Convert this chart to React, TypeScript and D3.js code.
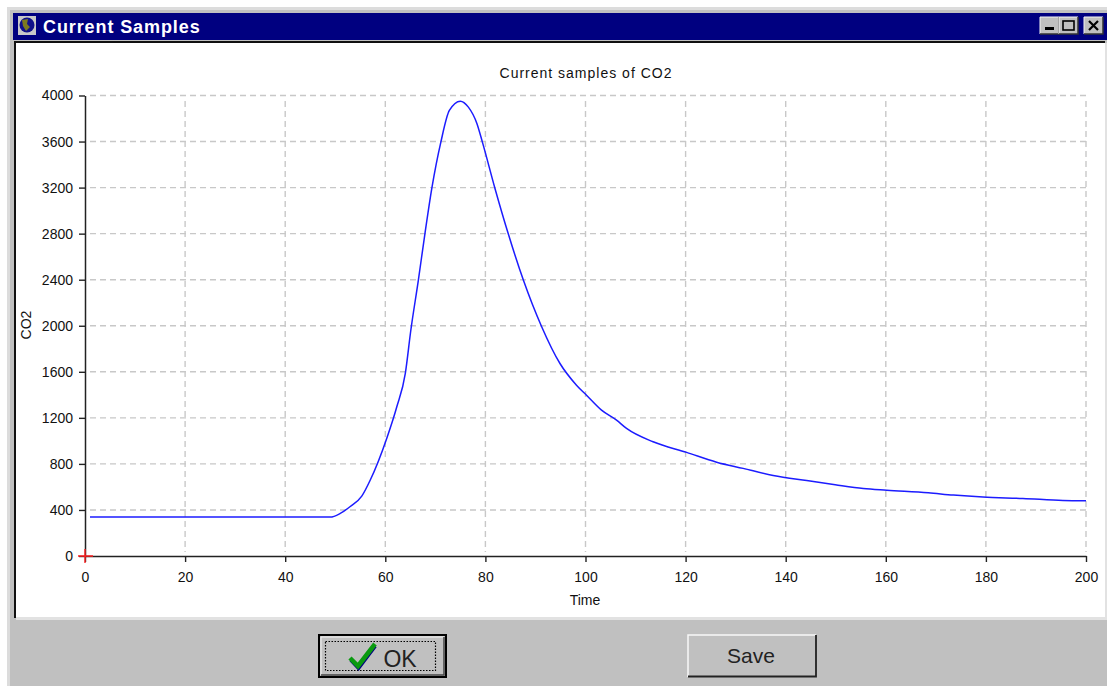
import { useEffect, useRef } from "react";
import * as d3 from "d3";

const timeTicks = [0, 20, 40, 60, 80, 100, 120, 140, 160, 180, 200];
const co2Ticks = [0, 400, 800, 1200, 1600, 2000, 2400, 2800, 3200, 3600, 4000];

const sampleTimes = [
  1, 49, 51, 53, 55.3, 57, 60.3, 62.3, 64, 65.1, 66.6, 67.9, 69.3, 71.1, 72.8, 75, 76.6, 78.3,
  79.4, 81.9, 84.6, 87.6, 91.2, 94.9, 98.2, 100.2, 103.2, 106.2, 108.2, 113.5, 120.2, 126.2,
  131.5, 137.5, 144.2, 149.9, 155.5, 160.2, 168.5, 173.5, 179.4, 187.4, 195.4, 200,
];
const co2Samples = [
  338, 338, 370, 430, 520, 660, 1023, 1296, 1587, 1961, 2395, 2794, 3195, 3595, 3870, 3951, 3899,
  3757, 3595, 3195, 2794, 2395, 1996, 1672, 1484, 1397, 1267, 1180, 1108, 992, 900, 815, 761, 700,
  655, 619, 587, 572, 549, 529, 512, 500, 483, 480,
];

const FONT = "'Liberation Sans', Arial, sans-serif";

function Plot() {
  const ref = useRef<SVGGElement | null>(null);

  useEffect(() => {
    if (!ref.current) return;
    const g = d3.select(ref.current);
    g.selectAll("*").remove();

    const x = d3.scaleLinear().domain([0, 200]).range([85, 1086]);
    const y = d3.scaleLinear().domain([0, 4000]).range([556, 95.5]);

    // grid first so the axes sit on top
    g.append("g")
      .selectAll("line")
      .data(co2Ticks.slice(1))
      .join("line")
      .attr("x1", 90)
      .attr("x2", 1086)
      .attr("y1", (d) => y(d))
      .attr("y2", (d) => y(d))
      .attr("stroke", "#c8c8c8")
      .attr("stroke-width", 1.4)
      .attr("stroke-dasharray", "6 4");

    g.append("g")
      .selectAll("line")
      .data(timeTicks.slice(1))
      .join("line")
      .attr("x1", (d) => x(d))
      .attr("x2", (d) => x(d))
      .attr("y1", 101)
      .attr("y2", 552)
      .attr("stroke", "#c8c8c8")
      .attr("stroke-width", 1.4)
      .attr("stroke-dasharray", "6 4");

    const yAxis = g
      .append("g")
      .attr("transform", "translate(85,0)")
      .call(d3.axisLeft(y).tickValues(co2Ticks).tickSize(6).tickPadding(6).tickSizeOuter(0));
    const xAxis = g
      .append("g")
      .attr("transform", "translate(0,556)")
      .call(
        d3
          .axisBottom(x)
          .tickValues(timeTicks)
          .tickFormat((d) => String(d))
          .tickSize(6)
          .tickPadding(10)
          .tickSizeOuter(0),
      );

    [yAxis, xAxis].forEach((a) => {
      a.selectAll("path").attr("stroke", "#222").attr("stroke-width", 1.5);
      a.selectAll("line").attr("stroke", "#222").attr("stroke-width", 1.4);
      a.selectAll("text")
        .attr("fill", "#111")
        .style("font-family", FONT)
        .style("font-size", "14px");
    });
    yAxis.selectAll("text").text((d) => String(d));

    const line = d3
      .line<number>()
      .x((d) => x(d))
      .y((_, i) => y(co2Samples[i]))
      .curve(d3.curveMonotoneX);

    g.append("path")
      .datum(sampleTimes)
      .attr("fill", "none")
      .attr("stroke", "#1c1cff")
      .attr("stroke-width", 1.5)
      .attr("d", line);

    // origin marker
    g.append("path")
      .attr("d", `M${x(0) - 7},${y(0)}H${x(0) + 8}M${x(0)},${y(0) - 7}V${y(0) + 7}`)
      .attr("stroke", "#ff2020")
      .attr("stroke-width", 1.4);
  }, []);

  return <g ref={ref} />;
}

function TitleButton({ x, kind }: { x: number; kind: "min" | "max" | "close" }) {
  return (
    <g>
      <rect x={x} y={17} width={19} height={17} fill="#c0c0c0" />
      <path d={`M${x},34V17H${x + 19}`} fill="none" stroke="#f4f4f4" />
      <path d={`M${x},34H${x + 19}V17`} fill="none" stroke="#333" strokeWidth={1.5} />
      {kind === "min" && <rect x={x + 5} y={27} width={9} height={3} fill="#000" />}
      {kind === "max" && (
        <rect x={x + 4} y={21} width={11} height={9} fill="none" stroke="#000" strokeWidth={1.6} />
      )}
      {kind === "close" && (
        <path
          d={`M${x + 5},21L${x + 14},30M${x + 14},21L${x + 5},30`}
          stroke="#000"
          strokeWidth={2.2}
        />
      )}
    </g>
  );
}

export default function App() {
  return (
    <svg
      width={1107}
      height={686}
      style={{ position: "fixed", left: 0, top: 0, display: "block", background: "#fff" }}
    >
      {/* window frame */}
      <rect x={7} y={7} width={1100} height={679} fill="#dcdcdc" />
      <rect x={10} y={10} width={1097} height={676} fill="#c0c0c0" />
      <rect x={13} y={13} width={1094} height={27} fill="#000080" />
      <rect x={14} y={41} width={1091} height={2} fill="#111" />
      <rect x={14} y={41} width={2} height={577} fill="#111" />
      <rect x={16} y={43} width={1089} height={574} fill="#fff" />
      <rect x={16} y={617} width={1091} height={3} fill="#e2e2e2" />
      <rect x={1105} y={43} width={2} height={577} fill="#e2e2e2" />

      {/* window icon */}
      <rect x={18} y={16} width={18} height={19} fill="#c8c8c8" />
      <circle cx={27} cy={25} r={7.5} fill="#10108a" />
      <path d="M22,20L28,19L27,24L30,27L26,31L23,26Z" fill="#7c7a20" />

      <text
        x={43}
        y={33}
        fill="#fff"
        fontFamily={FONT}
        fontWeight={700}
        fontSize={18}
        letterSpacing={0.9}
      >
        Current Samples
      </text>
      <TitleButton x={1040} kind="min" />
      <TitleButton x={1059} kind="max" />
      <TitleButton x={1084} kind="close" />

      {/* chart labels */}
      <text
        x={586}
        y={78}
        textAnchor="middle"
        fill="#111"
        fontFamily={FONT}
        fontSize={14}
        letterSpacing={1}
      >
        Current samples of CO2
      </text>
      <text x={585} y={605} textAnchor="middle" fill="#111" fontFamily={FONT} fontSize={14}>
        Time
      </text>
      <text
        transform="translate(31,325) rotate(-90)"
        textAnchor="middle"
        fill="#111"
        fontFamily={FONT}
        fontSize={14}
      >
        CO2
      </text>

      <Plot />

      {/* OK button */}
      <rect x={319} y={635} width={127} height={42} fill="#c0c0c0" stroke="#000" strokeWidth={2} />
      <path d="M321,675V637H444" fill="none" stroke="#f4f4f4" />
      <path d="M321,675H444V637" fill="none" stroke="#444" strokeWidth={1.5} />
      <rect
        x={325.5}
        y={641.5}
        width={110}
        height={29}
        fill="none"
        stroke="#000"
        strokeWidth={1.2}
        strokeDasharray="1.5 1.5"
      />
      <path d="M351,660L358.5,668L375,646" fill="none" stroke="#000080" strokeWidth={4} />
      <path d="M350,658L358,666L375,644" fill="none" stroke="#0a9a10" strokeWidth={4.5} />
      <text x={400} y={667} textAnchor="middle" fill="#222" fontFamily={FONT} fontSize={23}>
        OK
      </text>

      {/* Save button */}
      <rect x={688} y={635} width={128} height={42} fill="#c0c0c0" />
      <path d="M688,677V635H816" fill="none" stroke="#f8f8f8" strokeWidth={1.5} />
      <path d="M688,676.5H816V635" fill="none" stroke="#222" strokeWidth={1.8} />
      <text x={751} y={663} textAnchor="middle" fill="#222" fontFamily={FONT} fontSize={21}>
        Save
      </text>
    </svg>
  );
}
